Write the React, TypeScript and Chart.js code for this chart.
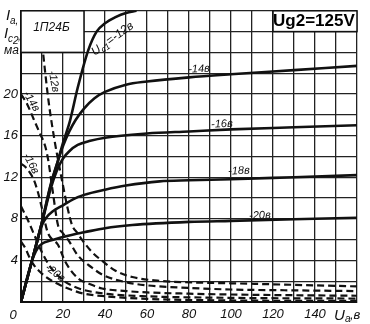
import React, { useEffect, useRef } from "react";
import { Chart, registerables } from "chart.js";

Chart.register(...registerables);

// ---- axes ----
const X_MAX = 160;
const Y_MAX = 28;
const xLabelValues = [20, 40, 60, 80, 100, 120, 140];
const yLabelValues = [4, 8, 12, 16, 20];

// ---- anode current Ia (solid) for Uc1 = -12 ... -20 V ----
const anodeX12 = [0, 5, 10, 14, 17.6, 20, 23.3, 27, 32, 36, 40, 45, 50, 55];
const anodeY12 = [0, 3.8, 7.7, 11.2, 13.6, 15.3, 17.4, 20.6, 24.2, 26, 26.8, 27.4, 27.8, 28];

const anodeX14 = [0, 5, 10, 14, 17.5, 20, 23, 26, 30, 35, 40, 50, 60, 80, 100, 130, 160];
const anodeY14 = [0, 3.8, 7.7, 11.1, 13.5, 15, 16.4, 17.5, 18.6, 19.6, 20.2, 20.9, 21.2, 21.6, 21.9, 22.3, 22.7];

const anodeX16 = [0, 5, 10, 14, 17, 20, 23, 27, 33, 40, 60, 80, 100, 130, 160];
const anodeY16 = [0, 3.8, 7.6, 10.8, 12.6, 13.8, 14.5, 15.1, 15.5, 15.8, 16.2, 16.4, 16.6, 16.8, 17.0];

const anodeX18 = [0, 5, 10, 12, 15, 20, 25, 30, 40, 50, 66, 80, 100, 130, 160];
const anodeY18 = [0, 3.8, 7.4, 8.1, 8.7, 9.3, 9.9, 10.3, 10.8, 11.2, 11.6, 11.7, 11.8, 12.0, 12.2];

const anodeX20 = [0, 3, 6, 8, 10, 14, 19, 25, 30, 40, 53, 80, 100, 130, 160];
const anodeY20 = [0, 2.4, 4.4, 5.2, 5.6, 5.9, 6.2, 6.5, 6.7, 7.1, 7.4, 7.7, 7.8, 7.95, 8.1];

// ---- screen-grid current Ic2 (dashed) ----
const screenX12 = [8.5, 10.5, 13, 16, 18, 20, 22, 24.3, 27, 29, 33.8, 39, 45, 53, 65, 78, 100, 130, 160];
const screenY12 = [28, 24, 19.5, 15.5, 13.3, 11.2, 9.2, 7.4, 6.6, 6.0, 4.8, 3.9, 3.0, 2.4, 2.05, 1.9, 1.8, 1.65, 1.5];

const screenX14 = [0, 3, 6, 9, 11.5, 13, 15, 17.6, 20, 22.4, 27, 33.8, 39, 50, 60, 80, 100, 130, 160];
const screenY14 = [20, 19, 17.6, 16.2, 15, 13.6, 10.8, 7.4, 6.6, 6.0, 4.5, 3.3, 2.6, 1.9, 1.6, 1.35, 1.2, 1.12, 1.05];

const screenX16 = [0, 2, 4, 6, 8, 10, 12.7, 17.6, 21, 27, 33, 38.6, 50, 60, 80, 100, 130, 160];
const screenY16 = [13.3, 13, 12.5, 11.8, 10.6, 9.0, 6.7, 5.5, 3.9, 2.3, 1.7, 1.3, 1.05, 0.92, 0.8, 0.72, 0.65, 0.6];

const screenX18 = [0, 3, 6, 9, 12, 15, 20, 25, 30, 40, 60, 100, 160];
const screenY18 = [9.2, 8.0, 6.6, 5.2, 4.0, 3.1, 2.1, 1.5, 1.15, 0.8, 0.55, 0.4, 0.33];

const screenX20 = [0, 2, 4, 6, 9, 12, 16, 20, 25, 30, 40, 60, 100, 160];
const screenY20 = [5.8, 5.2, 4.3, 3.6, 2.9, 2.4, 1.9, 1.5, 1.1, 0.8, 0.55, 0.3, 0.15, 0.1];

const INK = "#111";
const FAM = "'Liberation Sans Narrow', 'Liberation Sans', sans-serif";
const ITALIC = `italic 13px ${FAM}`;

function series(xs: number[], ys: number[], dashed: boolean) {
  return {
    data: xs.map((x, i) => ({ x, y: ys[i] })),
    borderColor: INK,
    borderWidth: dashed ? 2.2 : 2.6,
    borderDash: dashed ? [7, 4] : [],
    pointRadius: 0,
    cubicInterpolationMode: "monotone" as const,
    fill: false,
  };
}

type Seg = { t: string; sub?: boolean };

function drawRich(ctx: CanvasRenderingContext2D, segs: Seg[], x: number, y: number, size: number, angle: number) {
  ctx.save();
  ctx.translate(x, y);
  ctx.rotate((angle * Math.PI) / 180);
  let total = 0;
  for (const s of segs) {
    ctx.font = `italic ${s.sub ? Math.round(size * 0.72) : size}px ${FAM}`;
    total += ctx.measureText(s.t).width;
  }
  let cx = -total / 2;
  ctx.textBaseline = "middle";
  ctx.textAlign = "left";
  ctx.fillStyle = INK;
  for (const s of segs) {
    ctx.font = `italic ${s.sub ? Math.round(size * 0.72) : size}px ${FAM}`;
    ctx.fillText(s.t, cx, s.sub ? size * 0.3 : 0);
    cx += ctx.measureText(s.t).width;
  }
  ctx.restore();
}

const overlay = {
  id: "overlay",
  afterDatasetsDraw(chart: any) {
    const { ctx, scales } = chart;
    const px = (v: number) => scales.x.getPixelForValue(v);
    const py = (v: number) => scales.y.getPixelForValue(v);

    // tube type box
    ctx.save();
    ctx.fillStyle = "#fff";
    ctx.fillRect(px(0), py(28), px(30) - px(0), py(24) - py(28));
    ctx.strokeStyle = INK;
    ctx.lineWidth = 1.5;
    ctx.strokeRect(px(0), py(28), px(30) - px(0), py(24) - py(28));
    ctx.fillStyle = INK;
    ctx.font = "italic 12px 'Liberation Sans', sans-serif";
    ctx.textBaseline = "middle";
    ctx.textAlign = "center";
    ctx.fillText("1П24Б", px(14.5), py(26.4));

    // Ug2 box
    ctx.fillStyle = "#fff";
    ctx.fillRect(px(120), py(28), px(160) - px(120), py(26) - py(28));
    ctx.strokeRect(px(120), py(28), px(160) - px(120), py(26) - py(28));
    ctx.fillStyle = "#000";
    ctx.font = "bold 17px 'Liberation Sans', Arial, sans-serif";
    ctx.fillText("Ug2=125V", px(139.5), py(26.95));
    ctx.restore();

    // curve labels
    drawRich(ctx, [{ t: "U" }, { t: "с1", sub: true }, { t: "=-12в" }], px(43.6), py(25.3), 12, -36);
    drawRich(ctx, [{ t: "-14в" }], px(84.8), py(22.4), 11, -3);
    drawRich(ctx, [{ t: "-16в" }], px(95.7), py(17.1), 11, -3);
    drawRich(ctx, [{ t: "-18в" }], px(103.8), py(12.6), 11, -3);
    drawRich(ctx, [{ t: "-20в" }], px(113.8), py(8.3), 11, -3);
    drawRich(ctx, [{ t: "-12в" }], px(15.6), py(21.2), 11, 80);
    drawRich(ctx, [{ t: "-14в" }], px(5.0), py(19.3), 11, 58);
    drawRich(ctx, [{ t: "-16в" }], px(4.8), py(13.3), 11, 62);
    drawRich(ctx, [{ t: "-20в" }], px(16.2), py(2.8), 11, 38);

    // axis titles
    ctx.save();
    ctx.fillStyle = INK;
    ctx.textBaseline = "alphabetic";
    ctx.textAlign = "left";
    const big = "italic 15px 'Liberation Sans', sans-serif";
    const small = "italic 10px 'Liberation Sans', sans-serif";
    ctx.font = big; ctx.fillText("I", 6, 20);
    ctx.font = small; ctx.fillText("а,", 10, 24);
    ctx.font = big; ctx.fillText("I", 4, 38);
    ctx.font = small; ctx.fillText("с", 8, 42); ctx.fillText("2", 13, 44); ctx.fillText(",", 18, 40);
    ctx.font = "italic 12px 'Liberation Sans', sans-serif"; ctx.fillText("ма", 4, 54);

    // x-axis extras
    const yb = py(0) + 17;
    ctx.font = ITALIC;
    ctx.textAlign = "center";
    ctx.fillText("0", 13, yb);
    ctx.textAlign = "left";
    ctx.font = big; ctx.fillText("U", 334, yb + 1);
    ctx.font = small; ctx.fillText("а", 345, yb + 3);
    ctx.font = ITALIC; ctx.fillText(",в", 350, yb);
    ctx.restore();
  },
};

export default function App() {
  const ref = useRef<HTMLCanvasElement>(null);
  useEffect(() => {
    if (!ref.current) return;
    const chart = new Chart(ref.current, {
      type: "line",
      data: {
        datasets: [
          series(anodeX12, anodeY12, false),
          series(anodeX14, anodeY14, false),
          series(anodeX16, anodeY16, false),
          series(anodeX18, anodeY18, false),
          series(anodeX20, anodeY20, false),
          series(screenX12, screenY12, true),
          series(screenX14, screenY14, true),
          series(screenX16, screenY16, true),
          series(screenX18, screenY18, true),
          series(screenX20, screenY20, true),
        ] as any,
      },
      options: {
        animation: false,
        responsive: false,
        devicePixelRatio: 1,
        layout: { padding: { top: 10, right: 13, left: 0, bottom: 0 } },
        plugins: { legend: { display: false }, tooltip: { enabled: false } },
        scales: {
          x: {
            type: "linear",
            min: 0,
            max: X_MAX,
            ticks: {
              stepSize: 10,
              autoSkip: false,
              maxRotation: 0,
              padding: 5,
              color: INK,
              font: { family: FAM, size: 13, style: "italic" },
              callback: (v: any) => (xLabelValues.includes(Number(v)) ? String(v) : ""),
            },
            grid: { color: "#222", lineWidth: 1.3, drawTicks: false },
            border: { color: INK, width: 2 },
            afterFit: (s: any) => { s.height = 22; },
          },
          y: {
            type: "linear",
            min: 0,
            max: Y_MAX,
            ticks: {
              stepSize: 2,
              autoSkip: false,
              padding: 3,
              color: INK,
              font: { family: FAM, size: 13, style: "italic" },
              callback: (v: any) => (yLabelValues.includes(Number(v)) ? String(v) : ""),
            },
            grid: { color: "#222", lineWidth: 1.3, drawTicks: false },
            border: { color: INK, width: 2 },
            afterFit: (s: any) => { s.width = 21; },
          },
        },
      } as any,
      plugins: [overlay],
    });
    return () => chart.destroy();
  }, []);
  return (
    <div style={{ position: "fixed", left: 0, top: 0, width: 370, height: 324, background: "#fff" }}>
      <canvas ref={ref} width={370} height={324} style={{ display: "block" }} />
    </div>
  );
}
